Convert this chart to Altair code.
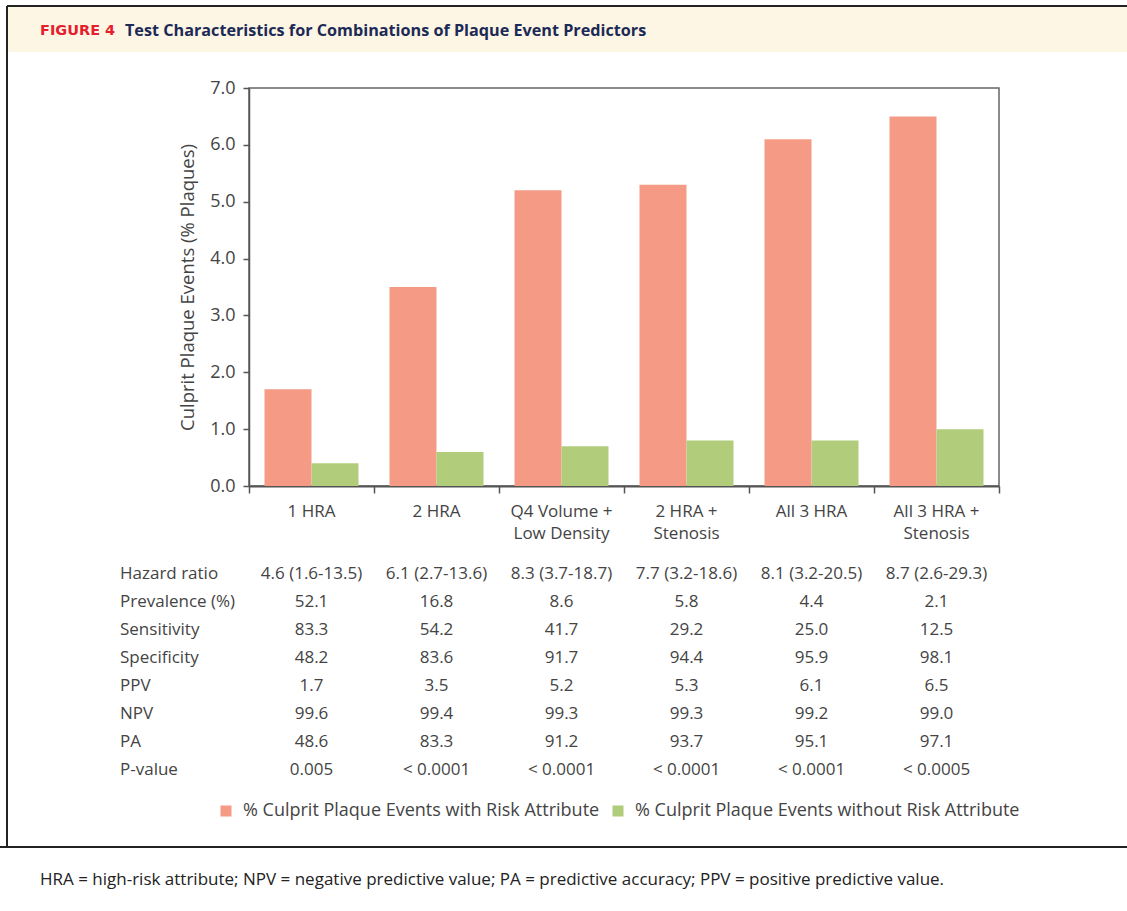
import altair as alt
import pandas as pd

FONT = "Open Sans"

# Combinations of predictors (x categories)
combos = ["1 HRA", "2 HRA", "Q4 Volume +\nLow Density", "2 HRA +\nStenosis",
          "All 3 HRA", "All 3 HRA +\nStenosis"]

# Bar series
series = ["% Culprit Plaque Events with Risk Attribute",
          "% Culprit Plaque Events without Risk Attribute"]
with_risk = [1.7, 3.5, 5.2, 5.3, 6.1, 6.5]
without_risk = [0.4, 0.6, 0.7, 0.8, 0.8, 1.0]
colors = ["#F59B85", "#B1CD7B"]

# Table of test characteristics
row_names = ["Hazard ratio", "Prevalence (%)", "Sensitivity", "Specificity",
             "PPV", "NPV", "PA", "P-value"]
hazard = ["4.6 (1.6-13.5)", "6.1 (2.7-13.6)", "8.3 (3.7-18.7)", "7.7 (3.2-18.6)",
          "8.1 (3.2-20.5)", "8.7 (2.6-29.3)"]
prevalence = ["52.1", "16.8", "8.6", "5.8", "4.4", "2.1"]
sensitivity = ["83.3", "54.2", "41.7", "29.2", "25.0", "12.5"]
specificity = ["48.2", "83.6", "91.7", "94.4", "95.9", "98.1"]
ppv = ["1.7", "3.5", "5.2", "5.3", "6.1", "6.5"]
npv = ["99.6", "99.4", "99.3", "99.3", "99.2", "99.0"]
pa = ["48.6", "83.3", "91.2", "93.7", "95.1", "97.1"]
pvalue = ["0.005", "< 0.0001", "<  0.0001", "< 0.0001", "< 0.0001", "< 0.0005"]
table_rows = [hazard, prevalence, sensitivity, specificity, ppv, npv, pa, pvalue]

title_tag = "FIGURE 4"
title_text = "Test Characteristics for Combinations of Plaque Event Predictors"
footnote = ("HRA = high-risk attribute; NPV = negative predictive value; "
            "PA = predictive accuracy; PPV = positive predictive value.")

# Layout (pixels)
W, H = 750, 398
PAD_L, PAD_T = 249, 88
CANVAS_W, CANVAS_H = 1127, 911
TEXT = "#444"

bars = pd.DataFrame(
    [{"combo": c, "series": series[0], "value": v} for c, v in zip(combos, with_risk)]
    + [{"combo": c, "series": series[1], "value": v} for c, v in zip(combos, without_risk)]
)
table = pd.DataFrame(
    [{"combo": c, "row": r, "cell": vals[i]}
     for r, vals in zip(row_names, table_rows) for i, c in enumerate(combos)]
)
rows_df = pd.DataFrame({"row": row_names})
combo_df = pd.DataFrame({"combo": combos})

x_scale = alt.Scale(domain=combos, paddingInner=0, paddingOuter=0)
x_enc = alt.X("combo:N", scale=x_scale, sort=combos,
              axis=alt.Axis(title=None, labels=False, tickBand="extent", tickSize=7,
                            tickColor="#555", domainColor="#555", domainWidth=2,
                            tickWidth=1.5, grid=False))

bar_layer = alt.Chart(bars).mark_bar().encode(
    x=x_enc,
    xOffset=alt.XOffset("series:N", sort=series,
                        scale=alt.Scale(paddingInner=0, paddingOuter=0.33)),
    y=alt.Y("value:Q", scale=alt.Scale(domain=[0, 7], nice=False),
            axis=alt.Axis(title="Culprit Plaque Events (% Plaques)", values=list(range(8)),
                          format=".1f", tickSize=6, tickColor="#555", tickWidth=1.5,
                          domainColor="#555", domainWidth=1.5, grid=False,
                          labelFontSize=18, labelColor=TEXT, labelFont=FONT,
                          labelPadding=8, titleFontSize=18.5, titleFont=FONT,
                          titleFontWeight="normal", titleColor=TEXT, titlePadding=12)),
    color=alt.Color("series:N", sort=series,
                    scale=alt.Scale(domain=series, range=colors),
                    legend=alt.Legend(title=None, orient="none", direction="horizontal",
                                      legendX=-32, legendY=714, symbolType="square",
                                      symbolSize=121, symbolStrokeWidth=0,
                                      labelFontSize=18, labelFont=FONT, labelColor=TEXT,
                                      labelLimit=0, columnPadding=9, labelOffset=8)),
)

xlabel_layer = alt.Chart(combo_df).mark_text(
    font=FONT, fontSize=17, color=TEXT, lineBreak="\n", baseline="top",
    lineHeight=22, align="center"
).encode(
    x=alt.X("combo:N", scale=x_scale, sort=combos),
    y=alt.value(416),
    text="combo:N",
)

row_scale = alt.Scale(domain=row_names, range=[486, 682], padding=0)
cell_layer = alt.Chart(table).mark_text(
    font=FONT, fontSize=17, color=TEXT, baseline="middle", align="center"
).encode(
    x=alt.X("combo:N", scale=x_scale, sort=combos),
    y=alt.Y("row:O", scale=row_scale, sort=row_names, axis=None),
    text="cell:N",
)
rowname_layer = alt.Chart(rows_df).mark_text(
    font=FONT, fontSize=17, color=TEXT, baseline="middle", align="left"
).encode(
    x=alt.value(120 - PAD_L),
    y=alt.Y("row:O", scale=row_scale, sort=row_names, axis=None),
    text="row:N",
)

one = alt.Data(values=[{}])

def px(x):
    return x - PAD_L

def py(y):
    return y - PAD_T

header_band = alt.Chart(one).mark_rect(color="#FEF6E4").encode(
    x=alt.value(px(8)), x2=alt.value(px(CANVAS_W)),
    y=alt.value(py(7)), y2=alt.value(py(52)),
)
frame_top = alt.Chart(one).mark_rule(color="#222", strokeWidth=2).encode(
    x=alt.value(px(7)), x2=alt.value(px(CANVAS_W)), y=alt.value(py(6)),
)
frame_left = alt.Chart(one).mark_rule(color="#222", strokeWidth=2).encode(
    x=alt.value(px(7)), y=alt.value(py(6)), y2=alt.value(py(847)),
)
frame_bottom = alt.Chart(one).mark_rule(color="#222", strokeWidth=2).encode(
    x=alt.value(px(0)), x2=alt.value(px(CANVAS_W)), y=alt.value(py(847)),
)
tag = alt.Chart(one).mark_text(
    text=title_tag, font="DejaVu Sans", fontSize=14.5, fontWeight="bold", color="#E4202E",
    align="left", baseline="middle"
).encode(x=alt.value(px(40)), y=alt.value(py(31)))
headline = alt.Chart(one).mark_text(
    text=title_text, font=FONT, fontSize=16.2, fontWeight="bold", color="#1B2A56",
    align="left", baseline="middle"
).encode(x=alt.value(px(125)), y=alt.value(py(31)))
foot = alt.Chart(one).mark_text(
    text=footnote, font=FONT, fontSize=17, color="#222", align="left", baseline="middle"
).encode(x=alt.value(px(40)), y=alt.value(py(880)))

chart = alt.layer(
    header_band, frame_top, frame_left, frame_bottom, tag, headline, foot,
    bar_layer, xlabel_layer, cell_layer, rowname_layer,
).resolve_scale(y="independent").properties(
    width=W, height=H, autosize="none",
    padding={"left": PAD_L, "top": PAD_T, "right": CANVAS_W - PAD_L - W,
             "bottom": CANVAS_H - PAD_T - H},
    background="white",
).configure_view(stroke="#666", strokeWidth=1.5)

chart.save("out.html", embed_options={"renderer": "svg", "actions": False})
